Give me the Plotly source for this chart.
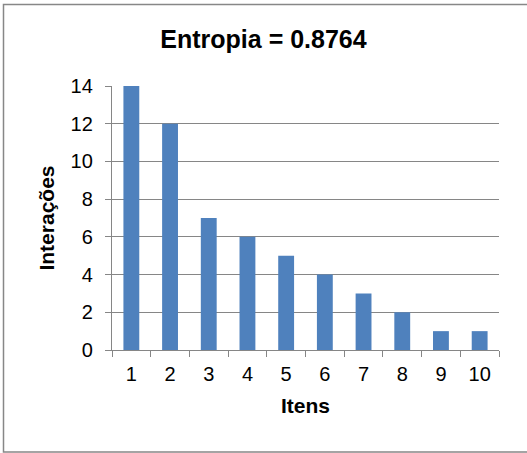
import plotly.graph_objects as go

categories = ["1", "2", "3", "4", "5", "6", "7", "8", "9", "10"]
values = [14, 12, 7, 6, 5, 4, 3, 2, 1, 1]
y_ticks = [0, 2, 4, 6, 8, 10, 12, 14]
title_text = "Entropia = 0.8764"
x_title = "Itens"
y_title = "Interações"

W, H = 527, 453
L, R, T, B = 112, 28, 86, 103
pw, ph = W - L - R, H - T - B

def px_x(p):
    return (p - L) / pw

def px_y(p):
    return (H - B - p) / ph

font_fam = "Liberation Sans, Arial, sans-serif"
grid_col = "#868686"

fig = go.Figure(go.Bar(x=categories, y=values, marker=dict(color="#4F81BD", line=dict(width=0)), width=0.41))

fig.update_layout(
    width=W, height=H,
    margin=dict(l=L, r=R, t=T, b=B),
    paper_bgcolor="white", plot_bgcolor="white",
    showlegend=False,
    font=dict(family=font_fam, color="black", size=20),
    title=dict(text="<b>" + title_text + "</b>", x=px_x(263.5), xref="paper", xanchor="center",
               y=1 - 39 / H, yanchor="middle", font=dict(size=25, family=font_fam)),
    xaxis=dict(
        type="category", showgrid=False, showline=True, linecolor=grid_col, linewidth=1.3,
        ticks="outside", ticklen=6, tickcolor=grid_col, tickson="boundaries",
        tickfont=dict(size=20), range=[-0.5, 9.5], ticklabelstandoff=6,
        title=dict(text="<b>" + x_title + "</b>", font=dict(size=21), standoff=14),
    ),
    yaxis=dict(
        range=[0, 14], tickvals=y_ticks, showgrid=True, gridcolor=grid_col, gridwidth=1.3,
        showline=True, linecolor=grid_col, linewidth=1.3, ticks="outside", ticklen=6,
        tickcolor=grid_col, tickfont=dict(size=20), zeroline=False, ticklabelstandoff=8,
        title=dict(text="<b>" + y_title + "</b>", font=dict(size=21), standoff=10),
    ),
    shapes=[dict(type="rect", xref="paper", yref="paper",
                 x0=px_x(3.5), x1=px_x(529), y0=px_y(4.5), y1=px_y(452),
                 line=dict(color="#878787", width=1.5), fillcolor="rgba(0,0,0,0)", layer="below")],
)

fig.write_html("out.html", config={"displayModeBar": False},
               post_script="document.body.style.margin='0';")
